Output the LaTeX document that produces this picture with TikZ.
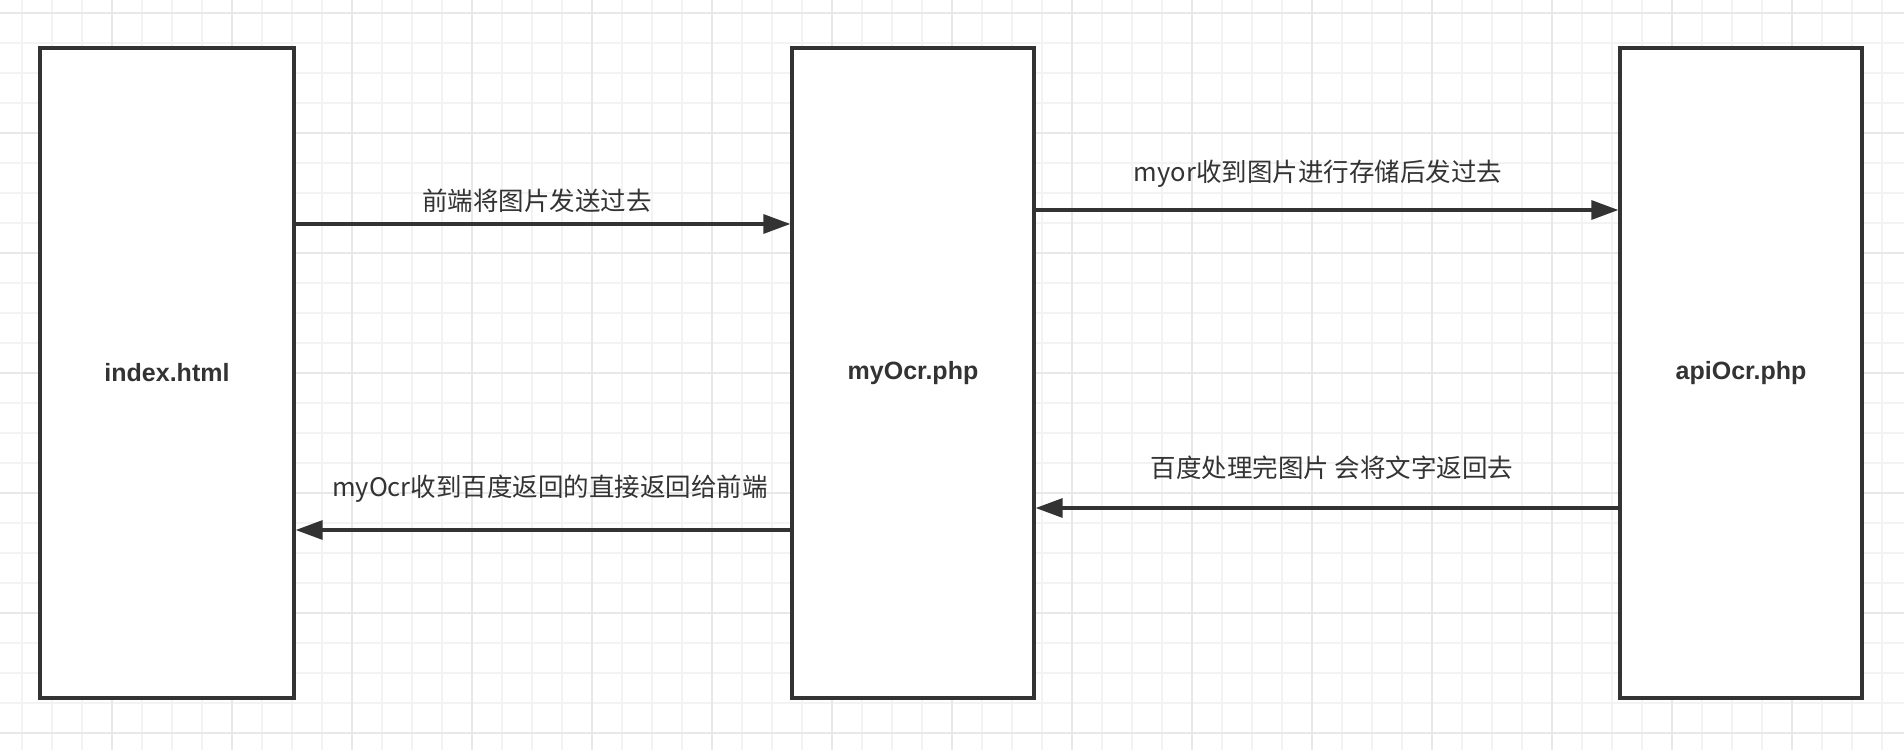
\documentclass[tikz,border=0pt]{standalone}
\usepackage{fontspec}
\setmainfont{Liberation Sans}
\newfontfamily\cjk{Noto Sans CJK SC}
\usetikzlibrary{arrows.meta}
\definecolor{ink}{HTML}{333333}
\definecolor{gridminor}{HTML}{F3F3F3}
\definecolor{gridmajor}{HTML}{E8E8E8}
\begin{document}
\begin{tikzpicture}[x=1pt,y=-1pt,
  box/.style={draw=ink, fill=white, line width=3.3pt, minimum height=650pt, inner sep=0pt,
    text=ink, font=\fontsize{25}{30}\selectfont\bfseries},
  arr/.style={draw=ink, line width=3.2pt, -{Triangle[length=27pt,width=19pt]}},
  lbl/.style={text=ink, inner sep=0pt, font=\cjk\fontsize{25.5}{30}\selectfont}]
\useasboundingbox (0,0) rectangle (1904,750);
\fill[white] (0,0) rectangle (1904,750);
% grid
\foreach \k in {0,...,62} {\draw[gridminor, line width=1.6pt] ({21.7+30*\k},0) -- ({21.7+30*\k},750);}
\foreach \k in {0,...,24} {\draw[gridminor, line width=1.6pt] (0,{12.7+30*\k}) -- (1904,{12.7+30*\k});}
\foreach \k in {0,...,14} {\draw[gridmajor, line width=1.6pt] ({111.7+120*\k},0) -- ({111.7+120*\k},750);}
\foreach \k in {0,...,6} {\draw[gridmajor, line width=1.6pt] (0,{12.7+120*\k}) -- (1904,{12.7+120*\k});}
% boxes
\node[box, minimum width=254pt] (b1) at (167,373) {index.html};
\node[box, minimum width=242pt] (b2) at (913,373) {myOcr.php};
\node[box, minimum width=242pt] (b3) at (1741,373) {apiOcr.php};
% levels
\coordinate (y1) at (0,224);
\coordinate (y2) at (0,210);
\coordinate (y3) at (0,508);
\coordinate (y4) at (0,530);
% connectors
\draw[arr] (b1.east |- y1) -- (b2.west |- y1);
\draw[arr] (b2.east |- y2) -- (b3.west |- y2);
\draw[arr] (b3.west |- y3) -- (b2.east |- y3);
\draw[arr] (b2.west |- y4) -- (b1.east |- y4);
% labels
\node[lbl] (l1) at (537,201) {前端将图片发送过去};
\node[lbl] (l2) at (1318,174) {myor收到图片进行存储后发过去};
\node[lbl] (l3) at (1332,468) {百度处理完图片 会将文字返回去};
\node[lbl] (l4) at (550,489) {myOcr收到百度返回的直接返回给前端};
\end{tikzpicture}
\end{document}
